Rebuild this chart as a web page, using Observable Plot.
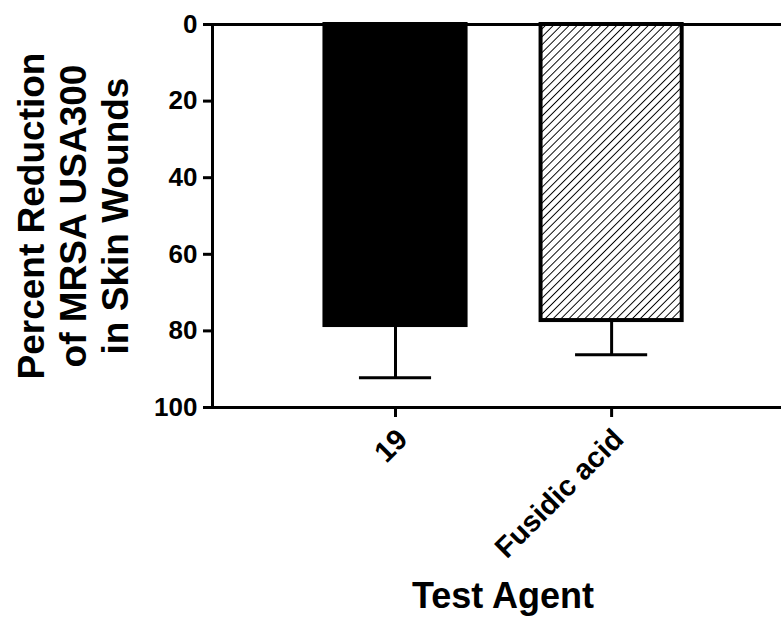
<!DOCTYPE html>
<html>
<head>
<meta charset="utf-8">
<script src="https://cdn.jsdelivr.net/npm/d3@7"></script>
<script src="https://cdn.jsdelivr.net/npm/@observablehq/plot@0.6"></script>
<style>
  html, body { margin: 0; padding: 0; background: #fff; }
  #chart svg { display: block; }
</style>
</head>
<body>
<div id="chart"></div>
<script>
const agents = ["19", "Fusidic acid"];
const means = [78.6, 77.3];
const errTops = [92.2, 86.2];
const fills = ["black", "url(#hatch)"];
const yTicks = [0, 20, 40, 60, 80, 100];
const yLabel = "Percent Reduction\nof MRSA USA300\nin Skin Wounds";
const xLabel = "Test Agent";

const data = agents.map((a, i) => ({agent: a, mean: means[i], err: errTops[i], fill: fills[i]}));

const font = "'Liberation Sans', Arial, Helvetica, sans-serif";

const chart = Plot.plot({
  width: 781,
  height: 622,
  marginLeft: 212,
  marginRight: 0,
  marginTop: 24,
  marginBottom: 215,
  style: {fontFamily: font, fontWeight: "bold", color: "black", background: "white"},
  x: {domain: agents, paddingInner: 0.347, paddingOuter: 0.49, align: 0.531, round: false, label: null},
  y: {domain: [0, 100], reverse: true, label: null},
  marks: [
    Plot.ruleX(data, {x: "agent", y1: "mean", y2: "err", stroke: "black", strokeWidth: 3}),
    Plot.tickY(data, {x: "agent", y: "err", stroke: "black", strokeWidth: 3, inset: 34.5}),
    Plot.barY(data, {x: "agent", y1: 0, y2: "mean", fill: "fill", stroke: "black", strokeWidth: 4}),
    Plot.ruleY([0, 100], {stroke: "black", strokeWidth: 3}),
    Plot.frame({anchor: "left", stroke: "black", strokeWidth: 3}),
    Plot.axisY({ticks: yTicks, tickSize: 9, tickPadding: 6, strokeWidth: 3, fontSize: 26, fontWeight: "bold", label: null}),
    Plot.axisX({tickSize: 10, strokeWidth: 3, tickFormat: () => "", label: null}),
    Plot.axisX({tickSize: 0, tickPadding: 27, dx: 7, fontSize: 29, fontWeight: "bold", tickRotate: -45, label: null}),
    Plot.text([yLabel], {text: d => d, frameAnchor: "left", rotate: -90, dx: -140, fontSize: 37, fontWeight: "bold", lineHeight: 1.13, textAnchor: "middle", lineAnchor: "middle", fill: "black"}),
    Plot.text([xLabel], {text: d => d, frameAnchor: "bottom", dx: 6, dy: 189, fontSize: 36, fontWeight: "bold", textAnchor: "middle", lineAnchor: "middle", fill: "black"})
  ]
});

const defs = d3.select(chart).insert("defs", ":first-child");
const pat = defs.append("pattern")
  .attr("id", "hatch")
  .attr("patternUnits", "userSpaceOnUse")
  .attr("width", 5.6)
  .attr("height", 5.6)
  .attr("patternTransform", "rotate(45)");
pat.append("rect").attr("width", 5.6).attr("height", 5.6).attr("fill", "white");
pat.append("line").attr("x1", 0).attr("y1", 0).attr("x2", 0).attr("y2", 5.6)
  .attr("stroke", "black").attr("stroke-width", 1.9);

document.getElementById("chart").appendChild(chart);
</script>
</body>
</html>
